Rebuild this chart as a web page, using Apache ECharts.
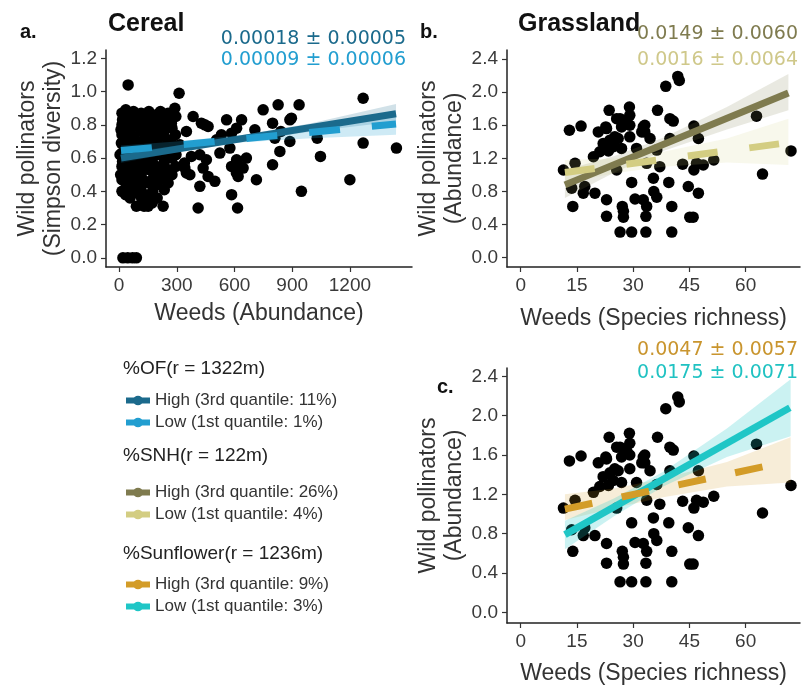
<!DOCTYPE html>
<html><head><meta charset="utf-8">
<script src="https://cdn.jsdelivr.net/npm/echarts@6/dist/echarts.min.js"></script>
<style>html,body{margin:0;padding:0;background:#fff}#chart{width:803px;height:688px}</style>
</head><body><div id="chart"></div>
<script>
// ---------- Data ----------
var cerealPoints = [
  [47,1.04],[312,0.99],[290,0.90],[272,0.81],[316,0.68],[350,0.76],[385,0.85],[428,0.81],[463,0.79],[420,0.62],
  [454,0.59],[376,0.61],[342,0.54],[368,0.50],[420,0.43],[463,0.49],[498,0.46],[411,0.30],[507,0.71],[532,0.74],
  [559,0.83],[585,0.75],[611,0.78],[524,0.63],[576,0.66],[611,0.59],[585,0.55],[645,0.54],[619,0.49],[585,0.38],
  [616,0.30],[637,0.83],[706,0.77],[714,0.47],[749,0.89],[798,0.81],[810,0.72],[827,0.92],[836,0.64],[798,0.56],
  [888,0.83],[888,0.70],[936,0.92],[948,0.40],[1030,0.72],[1047,0.61],[1200,0.47],[1269,0.96],[1269,0.69],[1442,0.66],
  [662,0.60],[628,0.55],[610,0.51],[841,0.76],[896,0.84],[437,0.54],[350,0.51],[340,0.57],[446,0.80],
  [20,0.0],[45,0.0],[70,0.0],[90,0.0],
  [15,0.87],[15,0.80],[15,0.74],[15,0.63],[15,0.55],[15,0.47],[15,0.40],[18,0.83],[12,0.69],[18,0.58],
  [35,0.89],[33,0.84],[36,0.78],[35,0.71],[32,0.66],[35,0.60],[37,0.52],[35,0.45],[34,0.38],
  [55,0.86],[52,0.80],[56,0.75],[55,0.68],[58,0.61],[55,0.56],[53,0.49],[55,0.43],[57,0.36],
  [75,0.88],[73,0.82],[76,0.73],[75,0.65],[72,0.58],[75,0.51],[78,0.44],[75,0.39],
  [95,0.85],[93,0.79],[96,0.70],[95,0.62],[98,0.54],[95,0.47],[92,0.41],[90,0.31],
  [115,0.87],[112,0.81],[116,0.76],[115,0.67],[118,0.59],[115,0.50],[113,0.42],[117,0.36],
  [135,0.84],[133,0.77],[136,0.72],[135,0.64],[132,0.56],[135,0.46],[138,0.38],[130,0.31],
  [155,0.88],[153,0.79],[156,0.69],[155,0.60],[158,0.53],[155,0.45],[152,0.36],[151,0.31],
  [175,0.83],[173,0.74],[176,0.66],[175,0.57],[178,0.48],[175,0.40],[172,0.33],
  [195,0.86],[193,0.78],[196,0.70],[195,0.62],[192,0.52],[195,0.44],[198,0.36],
  [215,0.88],[213,0.80],[216,0.73],[215,0.64],[218,0.55],[215,0.47],[229,0.31],
  [235,0.84],[233,0.76],[236,0.67],[235,0.58],[238,0.50],[235,0.41],
  [255,0.87],[253,0.81],[256,0.71],[255,0.61],[258,0.53],[255,0.45],
  [275,0.78],[273,0.69],[276,0.60],[275,0.50],
  [295,0.85],[293,0.74],[296,0.62],[295,0.55],
  [5,0.62],[8,0.50],[10,0.77]
];
var grasslandPoints = [
  [41.9,2.19],[42.3,2.14],[38.7,2.07],[29.0,1.82],[23.6,1.78],[36.5,1.78],[39.8,1.68],[40.7,1.65],[13.0,1.54],[16.1,1.59],
  [26.5,1.68],[28.3,1.64],[29.1,1.60],[26.9,1.58],[22.7,1.58],[20.7,1.52],[32.7,1.58],[33.1,1.52],[25.1,1.46],[29.1,1.46],
  [34.5,1.44],[39.8,1.44],[46.2,1.59],[47.4,1.44],[62.9,1.71],[24.7,1.34],[23.4,1.29],[21.1,1.28],[19.4,1.22],[26.9,1.32],
  [30.9,1.32],[36.3,1.30],[37.1,1.10],[33.6,1.14],[25.6,1.06],[11.4,1.06],[14.5,1.14],[43.2,1.13],[46.9,1.14],[46.2,1.06],
  [48.7,1.12],[51.5,1.18],[72.1,1.29],[64.5,1.01],[29.6,0.91],[35.4,0.96],[39.5,0.91],[44.7,0.86],[47.4,0.78],[35.5,0.80],
  [36.3,0.73],[17.1,0.86],[16.7,0.78],[19.8,0.78],[13.6,0.84],[22.9,0.70],[30.5,0.71],[32.7,0.70],[13.9,0.62],[27.1,0.62],
  [33.6,0.62],[40.3,0.62],[27.4,0.56],[22.9,0.50],[27.4,0.49],[33.4,0.50],[45.1,0.49],[46.0,0.49],[26.5,0.31],[29.6,0.31],
  [33.4,0.31],[40.3,0.31],[22.0,1.38],[23.8,1.42],[29.1,1.72],[25.6,1.68],[33.1,1.60],[22.9,1.56],[32.3,1.52],[26.0,1.44]
];

// fitted lines
var ofHighLine = [[10,0.60],[1440,0.867]];
var ofLowLine = [[10,0.645],[1440,0.805]];
var snhHighLine = [[11.8,0.88],[71.4,1.99]];
var snhLowLine = [[11.8,1.03],[71.4,1.39]];
var sunHighLine = [[11.8,1.05],[72,1.54]];
var sunLowLine = [[11.8,0.79],[71.8,2.08]];

// confidence bands
var ofBandX = [10,300,650,1000,1440];
var ofHighLower = [0.57,0.635,0.70,0.76,0.82];
var ofHighUpper = [0.63,0.675,0.74,0.81,0.925];
var ofLowLower = [0.615,0.655,0.695,0.72,0.74];
var ofLowUpper = [0.675,0.70,0.74,0.79,0.87];
var snhBandX = [11.8,25,38,55,71.4];
var snhHighLower = [0.72,1.03,1.29,1.55,1.78];
var snhHighUpper = [1.06,1.23,1.45,1.82,2.22];
var snhLowLower = [0.90,1.02,1.10,1.15,1.12];
var snhLowUpper = [1.18,1.20,1.28,1.44,1.68];
var sunBandX = [11.8,25,38,55,72];
var sunHighLower = [0.94,1.06,1.17,1.28,1.32];
var sunHighUpper = [1.20,1.26,1.36,1.53,1.78];
var sunLowLower = [0.64,0.98,1.28,1.58,1.79];
var sunLowUpper = [0.93,1.16,1.43,1.87,2.37];

// ticks
var cerealXTicks = [0,300,600,900,1200];
var cerealYTicks = [0,0.2,0.4,0.6,0.8,1.0,1.2];
var grassXTicks = [0,15,30,45,60];
var grassYTicks = [0,0.4,0.8,1.2,1.6,2.0,2.4];

// texts
var legendNames = {
  ofHigh:'High (3rd quantile: 11%)', ofLow:'Low (1st quantile: 1%)',
  snhHigh:'High (3rd quantile: 26%)', snhLow:'Low (1st quantile: 4%)',
  sunHigh:'High (3rd quantile: 9%)', sunLow:'Low (1st quantile: 3%)'
};
var legendTitles = ['%OF(r = 1322m)','%SNH(r = 122m)','%Sunflower(r = 1236m)'];
var slopeTexts = ['0.00018 \u00b1 0.00005','0.00009 \u00b1 0.00006','0.0149 \u00b1 0.0060','0.0016 \u00b1 0.0064','0.0047 \u00b1 0.0057','0.0175 \u00b1 0.0071'];

var C = {
  ofHigh:'#1b6a8c', ofLow:'#229ed0', snhHigh:'#7f7b4f', snhLow:'#d3cd82', sunHigh:'#d39c28', sunLow:'#1fc6c6'
};

// ---------- Build ----------
var FONT = 'Liberation Sans, Arial, sans-serif';
function band(ai, xs, lo, hi, color){
  return {type:'custom', xAxisIndex:ai, yAxisIndex:ai, z:3, silent:true, clip:true,
    data:[[xs[0], lo[0]]],
    renderItem:function(params, api){
      var pts = [], i;
      for (i = 0; i < xs.length; i++) pts.push(api.coord([xs[i], hi[i]]));
      for (i = xs.length - 1; i >= 0; i--) pts.push(api.coord([xs[i], lo[i]]));
      return {type:'polygon', shape:{points:pts}, style:{fill:color}};
    }};
}
function fit(name, ai, data, color, dash, z){
  return {type:'line', name:name, xAxisIndex:ai, yAxisIndex:ai, symbol:'none', silent:true, z:z,
    itemStyle:{color:color}, lineStyle:{color:color, width:7, type: dash || 'solid', cap:'butt'}, data:data};
}
function xAx(gi, min, max, ticks, name, gap){
  return {gridIndex:gi, type:'value', min:min, max:max,
    axisLine:{show:true, onZero:false, lineStyle:{color:'#222', width:1.5}},
    axisTick:{show:true, length:5, customValues:ticks, lineStyle:{color:'#333', width:1.2}},
    axisLabel:{customValues:ticks, fontSize:19, color:'#3a3a3a', margin:9, fontFamily:FONT, formatter:function(v){return String(v);}},
    splitLine:{show:false}, name:name, nameLocation:'middle', nameGap:gap,
    nameTextStyle:{fontSize:23, color:'#333', fontFamily:FONT}};
}
function yAx(gi, min, max, ticks, name){
  return {gridIndex:gi, type:'value', min:min, max:max,
    axisLine:{show:true, onZero:false, lineStyle:{color:'#222', width:1.5}},
    axisTick:{show:true, length:5, customValues:ticks, lineStyle:{color:'#333', width:1.2}},
    axisLabel:{customValues:ticks, fontSize:19, color:'#3a3a3a', margin:9, fontFamily:FONT, formatter:function(v){return v.toFixed(1);}},
    splitLine:{show:false}, name:name, nameLocation:'middle', nameRotate:90, nameGap:39,
    nameTextStyle:{fontSize:23, color:'#333', lineHeight:26, fontFamily:FONT}};
}
function ttl(text, left, top, size, bold, color, family){
  return {text:text, left:left, top:top, padding:0,
    textStyle:{fontSize:size, fontWeight: bold?'bold':'normal', color:color||'#111', fontFamily: family||FONT}};
}
function ttlR(text, right, top, color){
  return {text:text, right:right, top:top, padding:0,
    textStyle:{fontSize:19, fontWeight:'normal', color:color, fontFamily:'DejaVu Sans, sans-serif'}};
}
function leg(top, names){
  return {orient:'vertical', left:123, top:top, padding:0, itemGap:5, itemWidth:24, itemHeight:12,
    selectedMode:false, data:names, textStyle:{fontSize:17, color:'#333', fontFamily:FONT},
    lineStyle:{type:'solid', width:6}};
}
function dots(ai, data){
  return {type:'scatter', xAxisIndex:ai, yAxisIndex:ai, symbolSize:11.5, itemStyle:{color:'#000', opacity:1}, z:2, silent:true, data:data};
}

var series = [
  dots(0, cerealPoints), dots(1, grasslandPoints), dots(2, grasslandPoints),
  band(0, ofBandX, ofHighLower, ofHighUpper, 'rgba(27,106,140,0.2)'),
  band(0, ofBandX, ofLowLower, ofLowUpper, 'rgba(34,158,208,0.22)'),
  band(1, snhBandX, snhHighLower, snhHighUpper, 'rgba(127,123,79,0.17)'),
  band(1, snhBandX, snhLowLower, snhLowUpper, 'rgba(211,205,130,0.15)'),
  band(2, sunBandX, sunHighLower, sunHighUpper, 'rgba(211,156,40,0.18)'),
  band(2, sunBandX, sunLowLower, sunLowUpper, 'rgba(31,198,198,0.23)'),
  fit(legendNames.ofHigh, 0, ofHighLine, C.ofHigh, null, 4),
  fit(legendNames.ofLow, 0, ofLowLine, C.ofLow, [31,32], 5),
  fit(legendNames.snhHigh, 1, snhHighLine, C.snhHigh, null, 4),
  fit(legendNames.snhLow, 1, snhLowLine, C.snhLow, [30,32], 5),
  fit(legendNames.sunLow, 2, sunLowLine, C.sunLow, null, 4),
  fit(legendNames.sunHigh, 2, sunHighLine, C.sunHigh, [28,30], 5)
];

var option = {
  animation:false,
  backgroundColor:'#fff',
  textStyle:{fontFamily:FONT},
  grid:[
    {left:106, top:50, width:306, height:217},
    {left:507, top:50, width:293, height:217},
    {left:507, top:368, width:293, height:255}
  ],
  xAxis:[
    xAx(0,-68,1523,cerealXTicks,'Weeds (Abundance)',35),
    xAx(1,-3.65,74.5,grassXTicks,'Weeds (Species richness)',40),
    xAx(2,-3.65,74.5,grassXTicks,'Weeds (Species richness)',39)
  ],
  yAxis:[
    yAx(0,-0.055,1.25,cerealYTicks,'Wild pollinators\n(Simpson diversity)'),
    yAx(1,-0.112,2.509,grassYTicks,'Wild pollinators\n(Abundance)'),
    yAx(2,-0.109,2.485,grassYTicks,'Wild pollinators\n(Abundance)')
  ],
  title:[
    ttl('a.',20,22,20,true),
    ttl('Cereal',108,12,25,true),
    ttl('b.',420,22,20,true),
    ttl('Grassland',518,12,25,true),
    ttl('c.',437,377,20,true),
    ttlR(slopeTexts[0],397,30,C.ofHigh),
    ttlR(slopeTexts[1],397,51,C.ofLow),
    ttlR(slopeTexts[2],5,25,C.snhHigh),
    ttlR(slopeTexts[3],5,51,'#cfc88a'),
    ttlR(slopeTexts[4],5,341,'#c9952e'),
    ttlR(slopeTexts[5],5,364,'#20c2c2'),
    ttl(legendTitles[0],123,359,19,false,'#222'),
    ttl(legendTitles[1],123,446,19,false,'#222'),
    ttl(legendTitles[2],123,544,19,false,'#222')
  ],
  legend:[
    leg(392,[legendNames.ofHigh, legendNames.ofLow]),
    leg(484,[legendNames.snhHigh, legendNames.snhLow]),
    leg(576,[legendNames.sunHigh, legendNames.sunLow])
  ],
  series:series
};
var chart = echarts.init(document.getElementById('chart'), null, {renderer:'canvas'});
chart.setOption(option);
</script></body></html>
